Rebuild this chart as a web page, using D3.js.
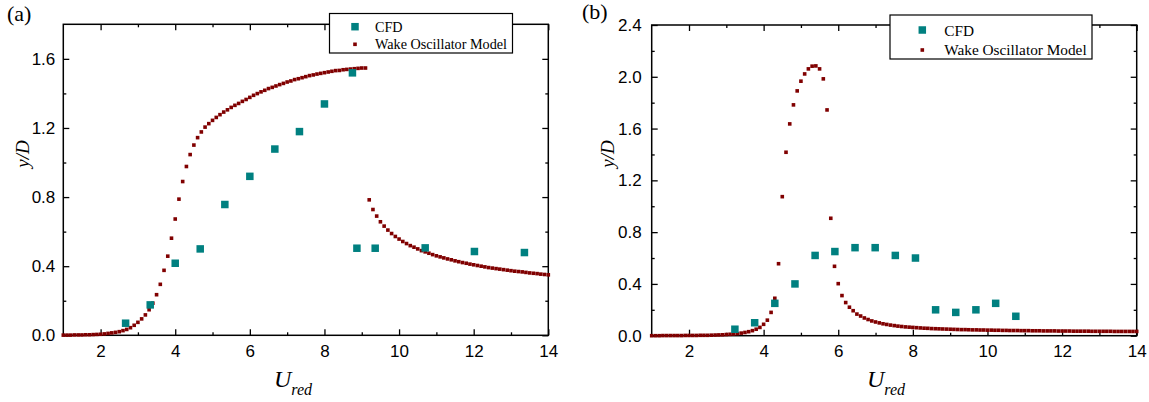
<!DOCTYPE html>
<html>
<head>
<meta charset="utf-8">
<script src="https://cdn.jsdelivr.net/npm/d3@7"></script>
<style>
  html, body { margin: 0; padding: 0; background: #fff; }
  svg { display: block; }
</style>
</head>
<body>
<svg id="chart" width="1149" height="402"></svg>
<script>
// ---------- data ----------
// panel (a): CFD amplitudes
const aCfdU = [2.67, 3.33, 4.0, 4.67, 5.33, 6.0, 6.67, 7.33, 8.0, 8.75, 8.87, 9.36, 10.7, 12.02, 13.36];
const aCfdY = [0.07, 0.176, 0.417, 0.50, 0.757, 0.92, 1.078, 1.179, 1.339, 1.519, 0.504, 0.504, 0.506, 0.485, 0.479];

// panel (a): wake oscillator model, lower-to-upper branch (Ured 1.0 .. 9.1)
const aModelU1 = [1.0,1.1,1.2,1.3,1.4,1.5,1.6,1.7,1.8,1.9,2.0,2.1,2.2,2.3,2.4,2.5,2.6,2.7,2.8,2.9,
  3.0,3.1,3.2,3.3,3.4,3.5,3.6,3.7,3.8,3.9,4.0,4.1,4.2,4.3,4.4,4.5,4.6,4.7,4.8,4.9,
  5.0,5.1,5.2,5.3,5.4,5.5,5.6,5.7,5.8,5.9,6.0,6.1,6.2,6.3,6.4,6.5,6.6,6.7,6.8,6.9,
  7.0,7.1,7.2,7.3,7.4,7.5,7.6,7.7,7.8,7.9,8.0,8.1,8.2,8.3,8.4,8.5,8.6,8.7,8.8,8.9,9.0,9.1];
const aModelY1 = [0.001,0.001,0.001,0.002,0.002,0.002,0.003,0.003,0.004,0.005,
  0.006,0.008,0.011,0.014,0.017,0.021,0.027,0.034,0.044,0.058,
  0.075,0.095,0.118,0.148,0.186,0.235,0.295,0.376,0.458,0.562,
  0.673,0.788,0.890,0.977,1.046,1.101,1.144,1.177,1.205,1.225,
  1.244,1.261,1.277,1.292,1.305,1.319,1.331,1.342,1.354,1.365,
  1.377,1.389,1.399,1.409,1.418,1.428,1.435,1.443,1.451,1.458,
  1.466,1.472,1.480,1.485,1.491,1.497,1.503,1.507,1.512,1.516,
  1.520,1.524,1.528,1.532,1.533,1.537,1.539,1.541,1.543,1.545,1.547,1.547];

// panel (a): wake oscillator model, desynchronised branch (Ured 9.2 .. 14.0)
const aModelU2 = [9.2,9.3,9.4,9.5,9.6,9.7,9.8,9.9,10.0,10.1,10.2,10.3,10.4,10.5,10.6,10.7,10.8,10.9,
  11.0,11.1,11.2,11.3,11.4,11.5,11.6,11.7,11.8,11.9,12.0,12.1,12.2,12.3,12.4,12.5,12.6,12.7,12.8,12.9,
  13.0,13.1,13.2,13.3,13.4,13.5,13.6,13.7,13.8,13.9,14.0];
const aModelY2 = [0.784,0.728,0.690,0.657,0.632,0.609,0.589,0.572,0.557,0.543,0.531,0.519,0.510,0.500,0.490,
  0.483,0.475,0.467,0.460,0.454,0.448,0.442,0.437,0.431,0.426,0.421,0.417,0.412,0.408,0.404,
  0.400,0.396,0.392,0.389,0.386,0.383,0.380,0.377,0.374,0.371,0.369,0.367,0.364,0.361,0.359,
  0.357,0.354,0.352,0.350];

// panel (b): CFD amplitudes
const bCfdU = [3.23, 3.76, 4.30, 4.84, 5.38, 5.91, 6.45, 6.99, 7.53, 8.07, 8.61, 9.15, 9.69, 10.22, 10.76];
const bCfdY = [0.05, 0.10, 0.25, 0.40, 0.62, 0.65, 0.68, 0.68, 0.62, 0.60, 0.20, 0.18, 0.20, 0.25, 0.15];

// panel (b): wake oscillator model (Ured 1.0 .. 14.0)
const bModelU = [1.0,1.1,1.2,1.3,1.4,1.5,1.6,1.7,1.8,1.9,2.0,2.1,2.2,2.3,2.4,2.5,2.6,2.7,2.8,2.9,
  3.0,3.1,3.2,3.3,3.4,3.5,3.6,3.7,3.8,3.9,4.0,4.1,4.2,4.3,4.4,4.5,4.6,4.7,4.8,4.9,
  5.0,5.1,5.2,5.3,5.4,5.5,5.6,5.7,5.8,5.9,6.0,6.1,6.2,6.3,6.4,6.5,6.6,6.7,6.8,6.9,
  7.0,7.1,7.2,7.3,7.4,7.5,7.6,7.7,7.8,7.9,8.0,8.1,8.2,8.3,8.4,8.5,8.6,8.7,8.8,8.9,
  9.0,9.1,9.2,9.3,9.4,9.5,9.6,9.7,9.8,9.9,10.0,10.1,10.2,10.3,10.4,10.5,10.6,10.7,10.8,10.9,
  11.0,11.1,11.2,11.3,11.4,11.5,11.6,11.7,11.8,11.9,12.0,12.1,12.2,12.3,12.4,12.5,12.6,12.7,12.8,12.9,
  13.0,13.1,13.2,13.3,13.4,13.5,13.6,13.7,13.8,13.9,14.0];
const bModelY = [0.000,0.000,0.000,0.001,0.001,0.001,0.001,0.001,0.001,0.002,
  0.002,0.002,0.002,0.003,0.003,0.003,0.004,0.005,0.006,0.007,
  0.009,0.011,0.013,0.016,0.020,0.025,0.031,0.039,0.050,0.064,
  0.088,0.120,0.180,0.289,0.556,1.074,1.417,1.636,1.783,1.891,
  1.966,2.022,2.061,2.082,2.084,2.061,1.984,1.744,0.907,0.536,
  0.402,0.310,0.256,0.220,0.193,0.167,0.152,0.137,0.125,0.114,
  0.106,0.099,0.092,0.087,0.082,0.078,0.074,0.071,0.068,0.066,
  0.064,0.062,0.060,0.058,0.057,0.055,0.054,0.053,0.052,0.051,
  0.050,0.049,0.048,0.047,0.047,0.046,0.045,0.045,0.044,0.044,
  0.043,0.043,0.042,0.042,0.041,0.041,0.040,0.040,0.040,0.039,
  0.039,0.039,0.038,0.038,0.038,0.037,0.037,0.037,0.037,0.036,
  0.036,0.036,0.036,0.035,0.035,0.035,0.035,0.035,0.034,0.034,
  0.034,0.034,0.034,0.034,0.033,0.033,0.033,0.033,0.033,0.033,0.033];

// axis ticks
const xMajorTicks = [2, 4, 6, 8, 10, 12, 14];
const xMinorTicks = [3, 5, 7, 9, 11, 13];
const yMajorTicksA = [0, 0.4, 0.8, 1.2, 1.6];
const yMinorTicksA = [0.2, 0.6, 1.0, 1.4];
const yMajorTicksB = [0, 0.4, 0.8, 1.2, 1.6, 2.0, 2.4];
const yMinorTicksB = [0.2, 0.6, 1.0, 1.4, 1.8, 2.2];
const legendLabels = ["CFD", "Wake Oscillator Model"];

// ---------- styling ----------
const CFD_COLOR = "#008080";
const MODEL_COLOR = "#800000";
const SANS = "'Liberation Sans', Arial, sans-serif";
const SERIF = "'Liberation Serif', 'Times New Roman', serif";

const svg = d3.select("#chart");

function zip(u, y) { return u.map((d, i) => ({ u: d, y: y[i] })); }

const panels = [
  {
    tag: "(a)", tagPos: [7, 21],
    xr: [63.3, 548.3], yr: [335.3, 24.3], yDomain: [0, 1.8],
    yMajor: yMajorTicksA, yMinor: yMinorTicksA, yPad: 8, xPad: 9.5,
    cfd: zip(aCfdU, aCfdY),
    model: zip(aModelU1, aModelY1).concat(zip(aModelU2, aModelY2)),
    yTitle: [22, 154], uTitleStart: 274,
    legend: { x: 329.5, y: 13.5, w: 183, h: 39.5, mx: 355, row: [26.7, 44.3], tx: 375, base: [32, 49.3], fs: 14.2 }
  },
  {
    tag: "(b)", tagPos: [582, 19],
    xr: [651.7, 1136.7], yr: [335.7, 25], yDomain: [0, 2.4],
    yMajor: yMajorTicksB, yMinor: yMinorTicksB, yPad: 10, xPad: 9,
    cfd: zip(bCfdU, bCfdY),
    model: zip(bModelU, bModelY),
    yTitle: [607, 154], uTitleStart: 867,
    legend: { x: 890, y: 15, w: 202, h: 44, mx: 922.3, row: [30, 50], tx: 944.3, base: [35.5, 54.5], fs: 15.3 }
  }
];

panels.forEach(p => {
  const x = d3.scaleLinear().domain([1, 14]).range(p.xr);
  const y = d3.scaleLinear().domain(p.yDomain).range(p.yr);
  const g = svg.append("g");

  // major and minor ticks on all four sides, pointing inward
  const minorLen = -3, majorLen = -6;
  const axes = [
    { gen: d3.axisBottom, sc: x, tr: `translate(0,${p.yr[0]})` },
    { gen: d3.axisTop, sc: x, tr: `translate(0,${p.yr[1]})` },
    { gen: d3.axisLeft, sc: y, tr: `translate(${p.xr[0]},0)` },
    { gen: d3.axisRight, sc: y, tr: `translate(${p.xr[1]},0)` }
  ];
  axes.forEach((a, i) => {
    const isX = i < 2;
    const minor = a.gen(a.sc).tickValues(isX ? xMinorTicks : p.yMinor).tickSize(minorLen).tickFormat("");
    const major = a.gen(a.sc).tickValues(isX ? xMajorTicks : p.yMajor).tickSize(majorLen);
    if (i === 0) major.tickPadding(p.xPad).tickFormat(d3.format("d"));
    else if (i === 2) major.tickPadding(p.yPad).tickFormat(d3.format(".1f"));
    else major.tickFormat("");
    [minor, major].forEach(ax => {
      const ag = g.append("g").attr("transform", a.tr).call(ax);
      ag.select(".domain").remove();
      ag.selectAll("line").attr("stroke", "#000").attr("stroke-width", 1.3);
      ag.selectAll("text").attr("fill", "#000").style("font-family", SANS).style("font-size", "17px");
    });
  });

  // frame
  g.append("rect")
    .attr("x", p.xr[0]).attr("y", p.yr[1])
    .attr("width", p.xr[1] - p.xr[0]).attr("height", p.yr[0] - p.yr[1])
    .attr("fill", "none").attr("stroke", "#000").attr("stroke-width", 1.5);

  // wake oscillator model points
  const ms = 3.6;
  g.append("g").selectAll("rect").data(p.model).join("rect")
    .attr("x", d => x(d.u) - ms / 2).attr("y", d => y(d.y) - ms / 2)
    .attr("width", ms).attr("height", ms)
    .attr("fill", MODEL_COLOR);

  // CFD points
  const cs = 7.5;
  g.append("g").selectAll("rect").data(p.cfd).join("rect")
    .attr("x", d => x(d.u) - cs / 2).attr("y", d => y(d.y) - cs / 2)
    .attr("width", cs).attr("height", cs)
    .attr("fill", CFD_COLOR);

  // axis titles
  g.append("text")
    .attr("transform", `translate(${p.yTitle[0]},${p.yTitle[1]}) rotate(-90)`)
    .attr("text-anchor", "middle").attr("dominant-baseline", "central")
    .style("font-family", SERIF).style("font-style", "italic").style("font-size", "19px")
    .text("y/D");

  const ut = g.append("text")
    .attr("x", p.uTitleStart).attr("y", 386.5)
    .style("font-family", SERIF).style("font-style", "italic").style("font-size", "24px");
  ut.append("tspan").text("U");
  ut.append("tspan").attr("dy", 8.5).style("font-size", "16px").text("red");

  // panel tag
  g.append("text")
    .attr("x", p.tagPos[0]).attr("y", p.tagPos[1])
    .style("font-family", SERIF).style("font-size", "22px")
    .text(p.tag);

  // legend
  const L = p.legend;
  const lg = g.append("g");
  lg.append("rect")
    .attr("x", L.x).attr("y", L.y).attr("width", L.w).attr("height", L.h)
    .attr("fill", "#fff").attr("stroke", "#000").attr("stroke-width", 1.2);
  lg.append("rect")
    .attr("x", L.mx - cs / 2).attr("y", L.row[0] - cs / 2).attr("width", cs).attr("height", cs)
    .attr("fill", CFD_COLOR);
  lg.append("rect")
    .attr("x", L.mx - ms / 2).attr("y", L.row[1] - ms / 2).attr("width", ms).attr("height", ms)
    .attr("fill", MODEL_COLOR);
  legendLabels.forEach((t, i) => {
    lg.append("text")
      .attr("x", L.tx).attr("y", L.base[i])
      .style("font-family", SERIF).style("font-size", L.fs + "px")
      .text(t);
  });
});
</script>
</body>
</html>
